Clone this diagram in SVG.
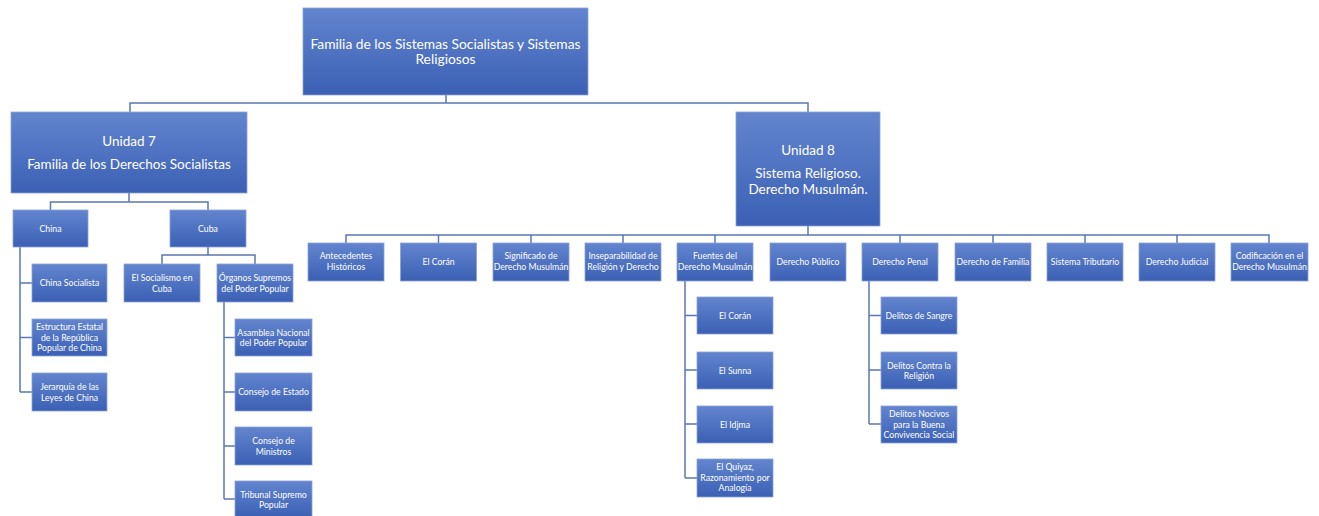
<svg xmlns="http://www.w3.org/2000/svg" width="1319" height="516" viewBox="0 0 1319 516">
<defs>
<linearGradient id="g" x1="0" y1="0" x2="0" y2="1">
<stop offset="0" stop-color="#6385cf"/>
<stop offset="1" stop-color="#3b60b4"/>
</linearGradient>
<style>
.b{fill:url(#g);stroke:#8aa1d6;stroke-width:0.8}
.t{fill:#ffffff;font-family:Lato,"Liberation Sans",sans-serif;text-anchor:middle}
.s{font-size:8.7px}
.l{font-size:13.5px}
.c{fill:none;stroke:#5b78b0;stroke-width:1.5}
</style>
</defs>
<rect width="1319" height="516" fill="#ffffff"/>
<g id="connectors">
<path class="c" d="M446,95V103M130,112V103H808V112"/>
<path class="c" d="M129,193V202M50.5,210V202H208V210"/>
<path class="c" d="M208,247V255M162,264V255H255V264"/>
<path class="c" d="M20,247V392M20,283H32M20,337.5H32M20,392H32"/>
<path class="c" d="M224,302V499M224,337.5H235M224,392H235M224,446H235M224,499H235"/>
<path class="c" d="M808,226V235M346,243V235H1269V243M438.5,235V243M531,235V243M623,235V243M715,235V243M900,235V243M993,235V243M1085,235V243M1177,235V243"/>
<path class="c" d="M685,281V478M685,315.5H697M685,370H697M685,424H697M685,478H697"/>
<path class="c" d="M869,281V424M869,315.5H881M869,370H881M869,424H881"/>
</g>
<g id="root"><rect class="b" x="303" y="8" width="285" height="87"/><text class="t" style="font-size:13.8px" x="445.5" y="49">Familia de los Sistemas Socialistas y Sistemas</text><text class="t" style="font-size:13.8px" x="445.5" y="64">Religiosos</text></g>
<g id="u7"><rect class="b" x="11" y="112" width="236" height="81"/><text class="t l" x="129" y="146">Unidad 7</text><text class="t l" x="129" y="169">Familia de los Derechos Socialistas</text></g>
<g id="u8"><rect class="b" x="736" y="112" width="144" height="114"/><text class="t l" x="808" y="155">Unidad 8</text><text class="t l" x="808" y="178">Sistema Religioso.</text><text class="t l" x="808" y="194">Derecho Musulmán.</text></g>
<g id="china"><rect class="b" x="13" y="210" width="75" height="37"/><text class="t s" x="50.5" y="231.5">China</text></g>
<g id="cuba"><rect class="b" x="170" y="210" width="76" height="37"/><text class="t s" x="208" y="231.5">Cuba</text></g>
<g id="socialismo"><rect class="b" x="124" y="264" width="76" height="38"/><text class="t s" x="162" y="281">El Socialismo en</text><text class="t s" x="162" y="291.5">Cuba</text></g>
<g id="organos"><rect class="b" x="217" y="264" width="76" height="38"/><text class="t s" x="255" y="281">Órganos Supremos</text><text class="t s" x="255" y="291.5">del Poder Popular</text></g>
<g id="chinasoc"><rect class="b" x="32" y="264" width="75" height="38"/><text class="t s" x="69.5" y="286">China Socialista</text></g>
<g id="estructura"><rect class="b" x="32" y="319" width="75" height="37"/><text class="t s" x="69.5" y="330.3">Estructura Estatal</text><text class="t s" x="69.5" y="340.8">de la República</text><text class="t s" x="69.5" y="351.3">Popular de China</text></g>
<g id="jerarquia"><rect class="b" x="32" y="373" width="75" height="38"/><text class="t s" x="69.5" y="390">Jerarquía de las</text><text class="t s" x="69.5" y="400.5">Leyes de China</text></g>
<g id="asamblea"><rect class="b" x="235" y="319" width="77" height="37"/><text class="t s" x="273.5" y="335.5">Asamblea Nacional</text><text class="t s" x="273.5" y="346">del Poder Popular</text></g>
<g id="estado"><rect class="b" x="235" y="373" width="77" height="38"/><text class="t s" x="273.5" y="395">Consejo de Estado</text></g>
<g id="ministros"><rect class="b" x="235" y="427" width="77" height="38"/><text class="t s" x="273.5" y="444">Consejo de</text><text class="t s" x="273.5" y="454.5">Ministros</text></g>
<g id="tribunal"><rect class="b" x="235" y="481" width="77" height="37"/><text class="t s" x="273.5" y="497.5">Tribunal Supremo</text><text class="t s" x="273.5" y="508">Popular</text></g>
<g id="antecedentes"><rect class="b" x="308" y="243" width="76" height="38"/><text class="t s" x="346" y="259">Antecedentes</text><text class="t s" x="346" y="269.5">Históricos</text></g>
<g id="coran"><rect class="b" x="400.5" y="243" width="76" height="38"/><text class="t s" x="438.5" y="265">El Corán</text></g>
<g id="significado"><rect class="b" x="493" y="243" width="76" height="38"/><text class="t s" x="531" y="259">Significado de</text><text class="t s" x="531" y="269.5">Derecho Musulmán</text></g>
<g id="insep"><rect class="b" x="585" y="243" width="76" height="38"/><text class="t s" x="623" y="259">Inseparabilidad de</text><text class="t s" x="623" y="269.5">Religión y Derecho</text></g>
<g id="fuentes"><rect class="b" x="677" y="243" width="76" height="38"/><text class="t s" x="715" y="259">Fuentes del</text><text class="t s" x="715" y="269.5">Derecho Musulmán</text></g>
<g id="publico"><rect class="b" x="770" y="243" width="76" height="38"/><text class="t s" x="808" y="265">Derecho Público</text></g>
<g id="penal"><rect class="b" x="862" y="243" width="76" height="38"/><text class="t s" x="900" y="265">Derecho Penal</text></g>
<g id="familia"><rect class="b" x="955" y="243" width="76" height="38"/><text class="t s" x="993" y="265">Derecho de Familia</text></g>
<g id="tributario"><rect class="b" x="1047" y="243" width="76" height="38"/><text class="t s" x="1085" y="265">Sistema Tributario</text></g>
<g id="judicial"><rect class="b" x="1139" y="243" width="76" height="38"/><text class="t s" x="1177" y="265">Derecho Judicial</text></g>
<g id="codificacion"><rect class="b" x="1231" y="243" width="77" height="38"/><text class="t s" x="1269.5" y="259">Codificación en el</text><text class="t s" x="1269.5" y="269.5">Derecho Musulmán</text></g>
<g id="coran2"><rect class="b" x="697" y="297" width="76" height="37"/><text class="t s" x="735" y="318.5">El Corán</text></g>
<g id="sunna"><rect class="b" x="697" y="352" width="76" height="37"/><text class="t s" x="735" y="373.5">El Sunna</text></g>
<g id="idjma"><rect class="b" x="697" y="406" width="76" height="37"/><text class="t s" x="735" y="427.5">El Idjma</text></g>
<g id="quiyaz"><rect class="b" x="697" y="459" width="76" height="38"/><text class="t s" x="735" y="470">El Quiyaz,</text><text class="t s" x="735" y="480.5">Razonamiento por</text><text class="t s" x="735" y="491">Analogía</text></g>
<g id="sangre"><rect class="b" x="881" y="297" width="76" height="37"/><text class="t s" x="919" y="318.5">Delitos de Sangre</text></g>
<g id="religion"><rect class="b" x="881" y="352" width="76" height="37"/><text class="t s" x="919" y="368.5">Delitos Contra la</text><text class="t s" x="919" y="379">Religión</text></g>
<g id="nocivos"><rect class="b" x="881" y="406" width="76" height="37"/><text class="t s" x="919" y="417">Delitos Nocivos</text><text class="t s" x="919" y="427.5">para la Buena</text><text class="t s" x="919" y="438">Convivencia Social</text></g>
</svg>
